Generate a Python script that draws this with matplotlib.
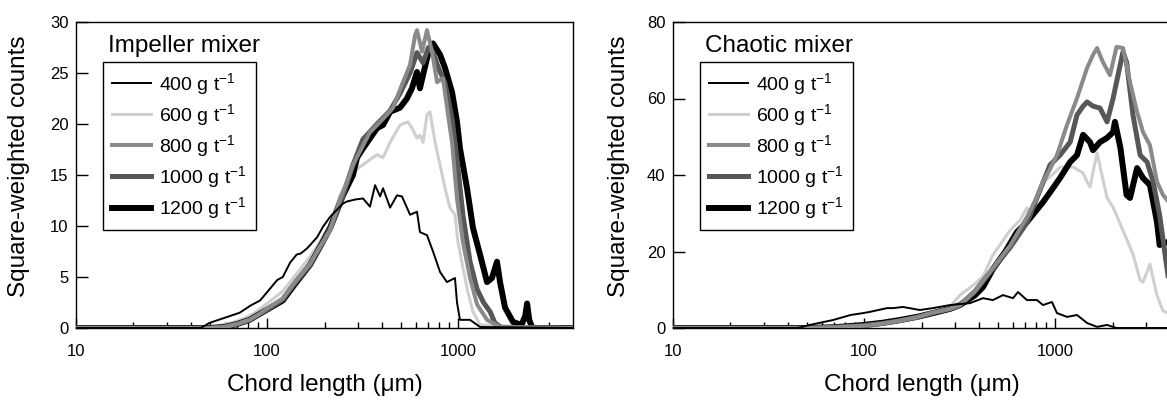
import matplotlib
matplotlib.use("Agg")
import matplotlib.pyplot as plt
from matplotlib.ticker import FixedLocator, NullFormatter

plt.rcParams['font.family'] = ['Liberation Sans', 'DejaVu Sans']
plt.rcParams['mathtext.default'] = 'regular'

# ---------------- data ----------------
labels = ["400 g t$^{-1}$", "600 g t$^{-1}$", "800 g t$^{-1}$", "1000 g t$^{-1}$", "1200 g t$^{-1}$"]
panel_titles = ["Impeller mixer", "Chaotic mixer"]

# Impeller mixer
L400_x = [10, 45, 50, 60, 72, 82, 92, 100, 113, 121, 132, 143, 150, 162, 183, 196, 214, 250, 262, 290, 318, 346, 368, 391, 405, 441, 479, 509, 561, 610, 632, 688, 740, 805, 875, 964, 988, 1024, 1156, 1304, 4000]
L400_y = [0, 0, 0.5, 1.0, 1.5, 2.2, 2.7, 3.5, 4.7, 5.0, 6.4, 7.2, 7.3, 7.8, 8.9, 9.9, 10.9, 12.2, 12.4, 12.6, 12.7, 11.9, 14.0, 12.9, 13.7, 11.8, 13.0, 12.9, 11.1, 11.4, 9.4, 9.1, 7.5, 5.5, 4.5, 4.9, 2.5, 0.8, 0.8, 0.1, 0]

L600_x = [10, 45, 55, 65, 75, 85, 100, 121, 140, 168, 190, 214, 241, 282, 334, 377, 405, 441, 497, 547, 574, 610, 632, 656, 688, 713, 759, 805, 855, 907, 964, 1000, 1062, 1127, 1198, 1304, 4000]
L600_y = [0, 0, 0.2, 0.5, 0.9, 1.4, 2.4, 3.6, 5.1, 7.0, 8.5, 10.2, 13.0, 15.3, 16.3, 17.0, 16.7, 18.2, 19.9, 20.2, 19.6, 18.6, 18.9, 18.2, 20.9, 21.2, 18.2, 16.0, 13.7, 11.8, 11.1, 8.4, 5.9, 3.5, 1.6, 0.3, 0]

L800_x = [10, 50, 60, 70, 81, 90, 100, 121, 140, 168, 190, 214, 240, 262, 282, 346, 391, 457, 515, 561, 596, 610, 648, 688, 731, 777, 834, 887, 931, 988, 1062, 1156, 1259, 1419, 1660, 4000]
L800_y = [0, 0, 0.1, 0.4, 0.8, 1.3, 1.9, 2.9, 4.5, 6.3, 8.0, 9.6, 12.5, 14.3, 16.0, 19.2, 20.2, 21.6, 24.1, 25.8, 28.7, 29.2, 27.1, 29.2, 27.1, 24.1, 24.5, 20.9, 18.2, 12.7, 8.4, 4.9, 2.3, 0.8, 0.1, 0]

L1000_x = [10, 50, 60, 70, 81, 90, 100, 121, 140, 168, 190, 214, 250, 282, 318, 377, 441, 497, 561, 610, 656, 700, 740, 790, 855, 931, 988, 1062, 1156, 1259, 1360, 1472, 1560, 1700, 4000]
L1000_y = [0, 0, 0.1, 0.4, 0.8, 1.3, 1.8, 2.8, 4.4, 6.2, 8.0, 9.7, 13.0, 16.0, 18.5, 20.0, 21.3, 23.0, 25.0, 27.0, 26.0, 27.5, 27.0, 25.5, 24.0, 20.5, 16.5, 11.0, 6.5, 3.8, 2.5, 1.6, 0.5, 0, 0]

L1200_x = [10, 50, 60, 70, 81, 90, 100, 121, 140, 168, 190, 214, 250, 282, 296, 318, 377, 405, 441, 497, 540, 574, 610, 632, 656, 700, 740, 805, 855, 931, 988, 1024, 1115, 1198, 1304, 1419, 1506, 1600, 1660, 1763, 1940, 2150, 2250, 2300, 2360, 2450, 4000]
L1200_y = [0, 0, 0.1, 0.4, 0.8, 1.3, 1.8, 2.7, 4.3, 6.2, 8.0, 9.8, 13.0, 15.0, 16.7, 17.6, 19.6, 19.9, 21.2, 21.6, 22.5, 23.5, 25.1, 23.5, 24.8, 27.0, 27.9, 26.8, 25.5, 23.1, 20.2, 17.6, 13.7, 9.8, 7.2, 4.5, 4.9, 6.5, 4.5, 2.0, 0.6, 0.3, 1.2, 2.4, 0.8, 0, 0]

# Chaotic mixer
R400_x = [10, 45, 52, 69, 85, 99, 107, 132, 142, 160, 196, 230, 282, 359, 420, 473, 534, 603, 640, 713, 805, 865, 964, 1024, 1156, 1304, 1472, 1660, 1873, 2100, 4000]
R400_y = [0, 0, 0.8, 2.1, 3.4, 3.9, 4.2, 5.2, 5.2, 5.5, 4.7, 5.2, 6.0, 6.5, 7.8, 7.3, 8.6, 7.8, 9.4, 7.3, 7.3, 6.0, 6.8, 3.9, 2.9, 3.4, 1.3, 0.3, 0.8, 0, 0]

R600_x = [10, 50, 70, 100, 150, 204, 250, 282, 318, 380, 420, 473, 520, 581, 656, 713, 740, 834, 865, 941, 1062, 1101, 1242, 1403, 1472, 1525, 1660, 1873, 2014, 2270, 2560, 2790, 2890, 3140, 3420, 3675, 3900, 4000]
R600_y = [0, 0, 0.3, 1.0, 1.8, 2.8, 4.2, 5.5, 8.6, 11.5, 13.5, 19.1, 22.0, 25.5, 28.2, 31.4, 30.1, 35.3, 38.2, 39.5, 42.0, 42.1, 42.1, 40.5, 38.2, 36.9, 45.8, 34.0, 31.6, 25.5, 19.3, 12.5, 12.0, 16.7, 8.5, 4.5, 3.9, 3.5]

R800_x = [10, 50, 70, 100, 126, 150, 189, 230, 282, 318, 380, 473, 581, 713, 800, 865, 941, 1024, 1156, 1304, 1472, 1581, 1660, 1782, 1940, 2100, 2270, 2470, 2690, 2890, 3140, 3420, 3675, 4000]
R800_y = [0, 0, 0.2, 0.6, 1.2, 1.8, 2.8, 4.0, 5.0, 6.0, 9.5, 15.7, 21.5, 29.0, 34.0, 38.2, 41.5, 45.2, 53.1, 60.1, 68.0, 71.4, 73.2, 69.5, 66.1, 73.5, 73.2, 64.3, 56.5, 51.2, 47.8, 38.2, 34.8, 32.5]

R1000_x = [10, 50, 70, 100, 126, 150, 189, 230, 282, 318, 380, 473, 581, 713, 865, 941, 1062, 1200, 1304, 1403, 1472, 1581, 1720, 1873, 2014, 2100, 2270, 2370, 2560, 2790, 3035, 3265, 3530, 3900, 4000]
R1000_y = [0, 0, 0.2, 0.6, 1.2, 1.8, 2.8, 4.0, 5.0, 6.0, 9.5, 15.5, 21.0, 27.5, 38.0, 42.6, 45.2, 48.6, 55.7, 58.0, 59.1, 58.0, 57.5, 53.9, 60.0, 64.3, 72.2, 69.5, 55.7, 45.2, 43.4, 38.2, 29.5, 13.9, 10.0]

R1200_x = [10, 50, 70, 84, 100, 126, 150, 189, 230, 282, 318, 380, 420, 473, 550, 632, 713, 865, 977, 1062, 1200, 1304, 1403, 1525, 1581, 1720, 1873, 2014, 2060, 2200, 2370, 2470, 2690, 2890, 3140, 3420, 3530, 3900, 4000]
R1200_y = [0, 0, 0.2, 0.5, 0.8, 1.4, 2.0, 2.9, 3.9, 5.0, 6.0, 8.5, 10.7, 15.4, 20.0, 25.1, 27.7, 32.9, 36.6, 39.2, 43.4, 45.2, 50.5, 48.6, 46.5, 48.6, 49.7, 51.2, 53.9, 47.1, 34.8, 34.0, 41.8, 39.2, 37.4, 27.7, 21.7, 22.5, 22.0]

left_series = [(L400_x, L400_y), (L600_x, L600_y), (L800_x, L800_y), (L1000_x, L1000_y), (L1200_x, L1200_y)]
right_series = [(R400_x, R400_y), (R600_x, R600_y), (R800_x, R800_y), (R1000_x, R1000_y), (R1200_x, R1200_y)]

left_yticks = [0, 5, 10, 15, 20, 25, 30]
right_yticks = [0, 20, 40, 60, 80]
xticks = [10, 100, 1000]
xtick_labels = ["10", "100", "1000"]
xminor = [20, 30, 40, 50, 60, 70, 80, 90, 200, 300, 400, 500, 600, 700, 800, 900, 2000, 3000]

# ---------------- style ----------------
colors = ["#000000", "#cfcfcf", "#8a8a8a", "#575757", "#000000"]
widths = [1.4, 2.2, 2.9, 3.6, 4.3]
zorders = [6, 2, 5, 4, 3]

fig = plt.figure(figsize=(11.67, 4.0), dpi=100)
W, H = 1167.0, 400.0
ax1 = fig.add_axes([76 / W, 1 - 328 / H, (573 - 76) / W, (328 - 22) / H])
ax2 = fig.add_axes([673 / W, 1 - 328 / H, (1170 - 673) / W, (328 - 22) / H])

for ax, series, yt, ymax, title, ylx in [
    (ax1, left_series, left_yticks, 30, panel_titles[0], -0.0926),
    (ax2, right_series, right_yticks, 80, panel_titles[1], -0.0865),
]:
    for (xs, ys), c, lw, z, lab in zip(series, colors, widths, zorders, labels):
        ax.plot(xs, ys, color=c, lw=lw, zorder=z, label=lab, solid_joinstyle='round')
    ax.set_xscale('log')
    ax.set_xlim(10, 4000)
    ax.set_ylim(0, ymax)
    ax.xaxis.set_major_locator(FixedLocator(xticks))
    ax.set_xticklabels(xtick_labels)
    ax.xaxis.set_minor_locator(FixedLocator(xminor))
    ax.xaxis.set_minor_formatter(NullFormatter())
    ax.set_yticks(yt)
    ax.tick_params(axis='x', which='major', direction='in', length=7, width=1, labelsize=12, pad=11.5)
    ax.tick_params(axis='x', which='minor', direction='in', length=4, width=1)
    ax.tick_params(axis='y', which='major', direction='in', length=8.5, width=1, labelsize=12, pad=5.5)
    ax.tick_params(axis='y', which='minor', left=False)
    for s in ax.spines.values():
        s.set_linewidth(1.0)
    ax.set_xlabel("Chord length (\u03bcm)", fontsize=17.5)
    ax.xaxis.set_label_coords(0.5, -0.15)
    ax.set_ylabel("Square-weighted counts", fontsize=17.5)
    ax.yaxis.set_label_coords(ylx, 0.53)
    ax.text(0.065, 0.902, title, transform=ax.transAxes, fontsize=17.5, va='baseline', ha='left')
    leg = ax.legend(loc='upper left', bbox_to_anchor=(0.0543, 0.869), fontsize=14,
                    frameon=True, fancybox=False, edgecolor='black', framealpha=1,
                    borderaxespad=0, borderpad=0.45, labelspacing=0.27,
                    handlelength=2.0, handletextpad=0.45)
    leg.get_frame().set_linewidth(1.0)
    leg.set_zorder(10)

fig.savefig("out.png", dpi=100)
